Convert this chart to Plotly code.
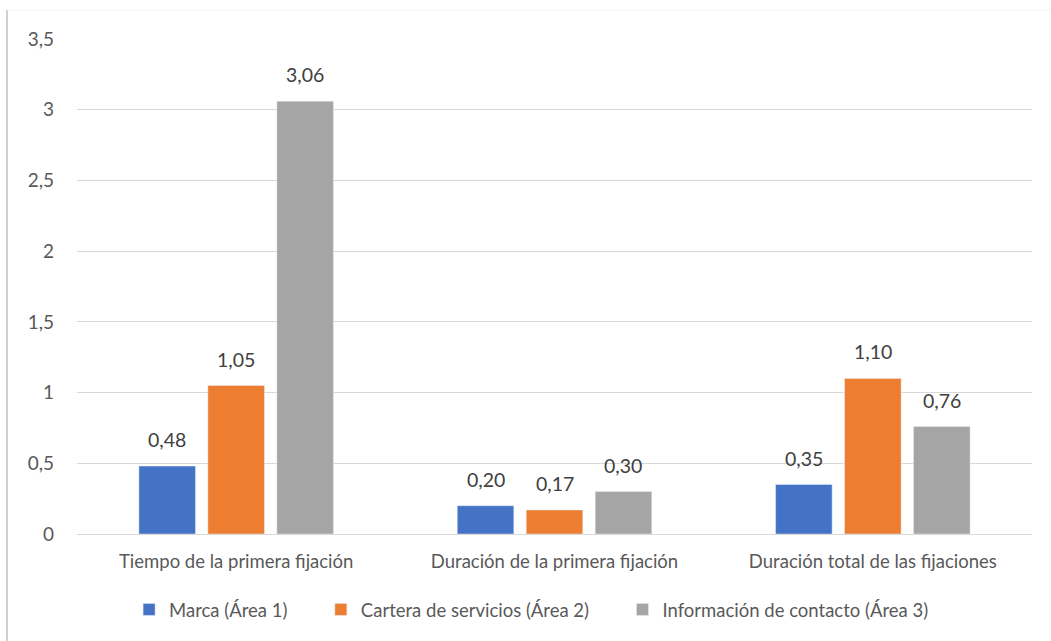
import plotly.graph_objects as go

categories = ["Tiempo de la primera fijación", "Duración de la primera fijación", "Duración total de las fijaciones"]
series_names = ["Marca (Área 1)", "Cartera de servicios (Área 2)", "Información de contacto (Área 3)"]
marca = [0.48, 0.20, 0.35]
cartera = [1.05, 0.17, 1.10]
info = [3.06, 0.30, 0.76]
colors = ["#4472C4", "#ED7D31", "#A5A5A5"]

FONT = "Lato"
BARGAP = 0.35
PAD = "\u00a0" * 6
fig = go.Figure()
annotations = []
slot = (1 - BARGAP) / 3
n_series = len(series_names)
for j, (name, vals, col) in enumerate(zip(series_names, [marca, cartera, info], colors)):
    fig.add_trace(go.Bar(
        x=list(range(len(categories))), y=vals,
        name=name + (PAD if j < n_series - 1 else ""), marker_color=col,
    ))
    for i, v in enumerate(vals):
        annotations.append(dict(
            x=i + (j - 1) * slot, y=v, xref="x", yref="y",
            text=f"{v:.2f}".replace(".", ","), showarrow=False,
            yanchor="bottom", yshift=13,
            font=dict(size=19.5, color="#404040", family=FONT),
        ))

fig.update_layout(
    width=1051, height=641,
    margin=dict(l=77, r=19, t=39, b=107, autoexpand=False),
    paper_bgcolor="white", plot_bgcolor="white",
    separators=",.",
    barmode="group", bargap=BARGAP, bargroupgap=0.18,
    font=dict(family=FONT, size=18.5, color="#595959"),
    showlegend=True,
    legend=dict(orientation="h", x=0.476, xanchor="center", y=-0.115, yanchor="top",
                font=dict(size=18.5, color="#595959", family=FONT),
                itemwidth=30, traceorder="normal"),
    yaxis=dict(range=[0, 3.5], dtick=0.5, showgrid=True, gridcolor="#D9D9D9", gridwidth=1,
               zeroline=True, zerolinecolor="#D9D9D9", zerolinewidth=1,
               showline=False, ticks="", ticklabelstandoff=22, automargin=False,
               tickfont=dict(size=19, color="#595959", family=FONT)),
    xaxis=dict(showline=False, ticks="", automargin=False, ticklabelstandoff=14,
               tickmode="array", tickvals=list(range(len(categories))), ticktext=categories,
               range=[-0.5, len(categories) - 0.5],
               tickfont=dict(size=18.5, color="#595959", family=FONT)),
    annotations=annotations,
    shapes=[
        dict(type="line", xref="paper", yref="paper", x0=-0.0733, x1=-0.0733, y0=1.0586, y1=-0.22,
             line=dict(color="#D0D0D0", width=2)),
        dict(type="line", xref="paper", yref="paper", x0=-0.0733, x1=1.02, y0=1.0586, y1=1.0586,
             line=dict(color="#F2F2F2", width=1)),
    ],
)

fig.write_html("out.html")
